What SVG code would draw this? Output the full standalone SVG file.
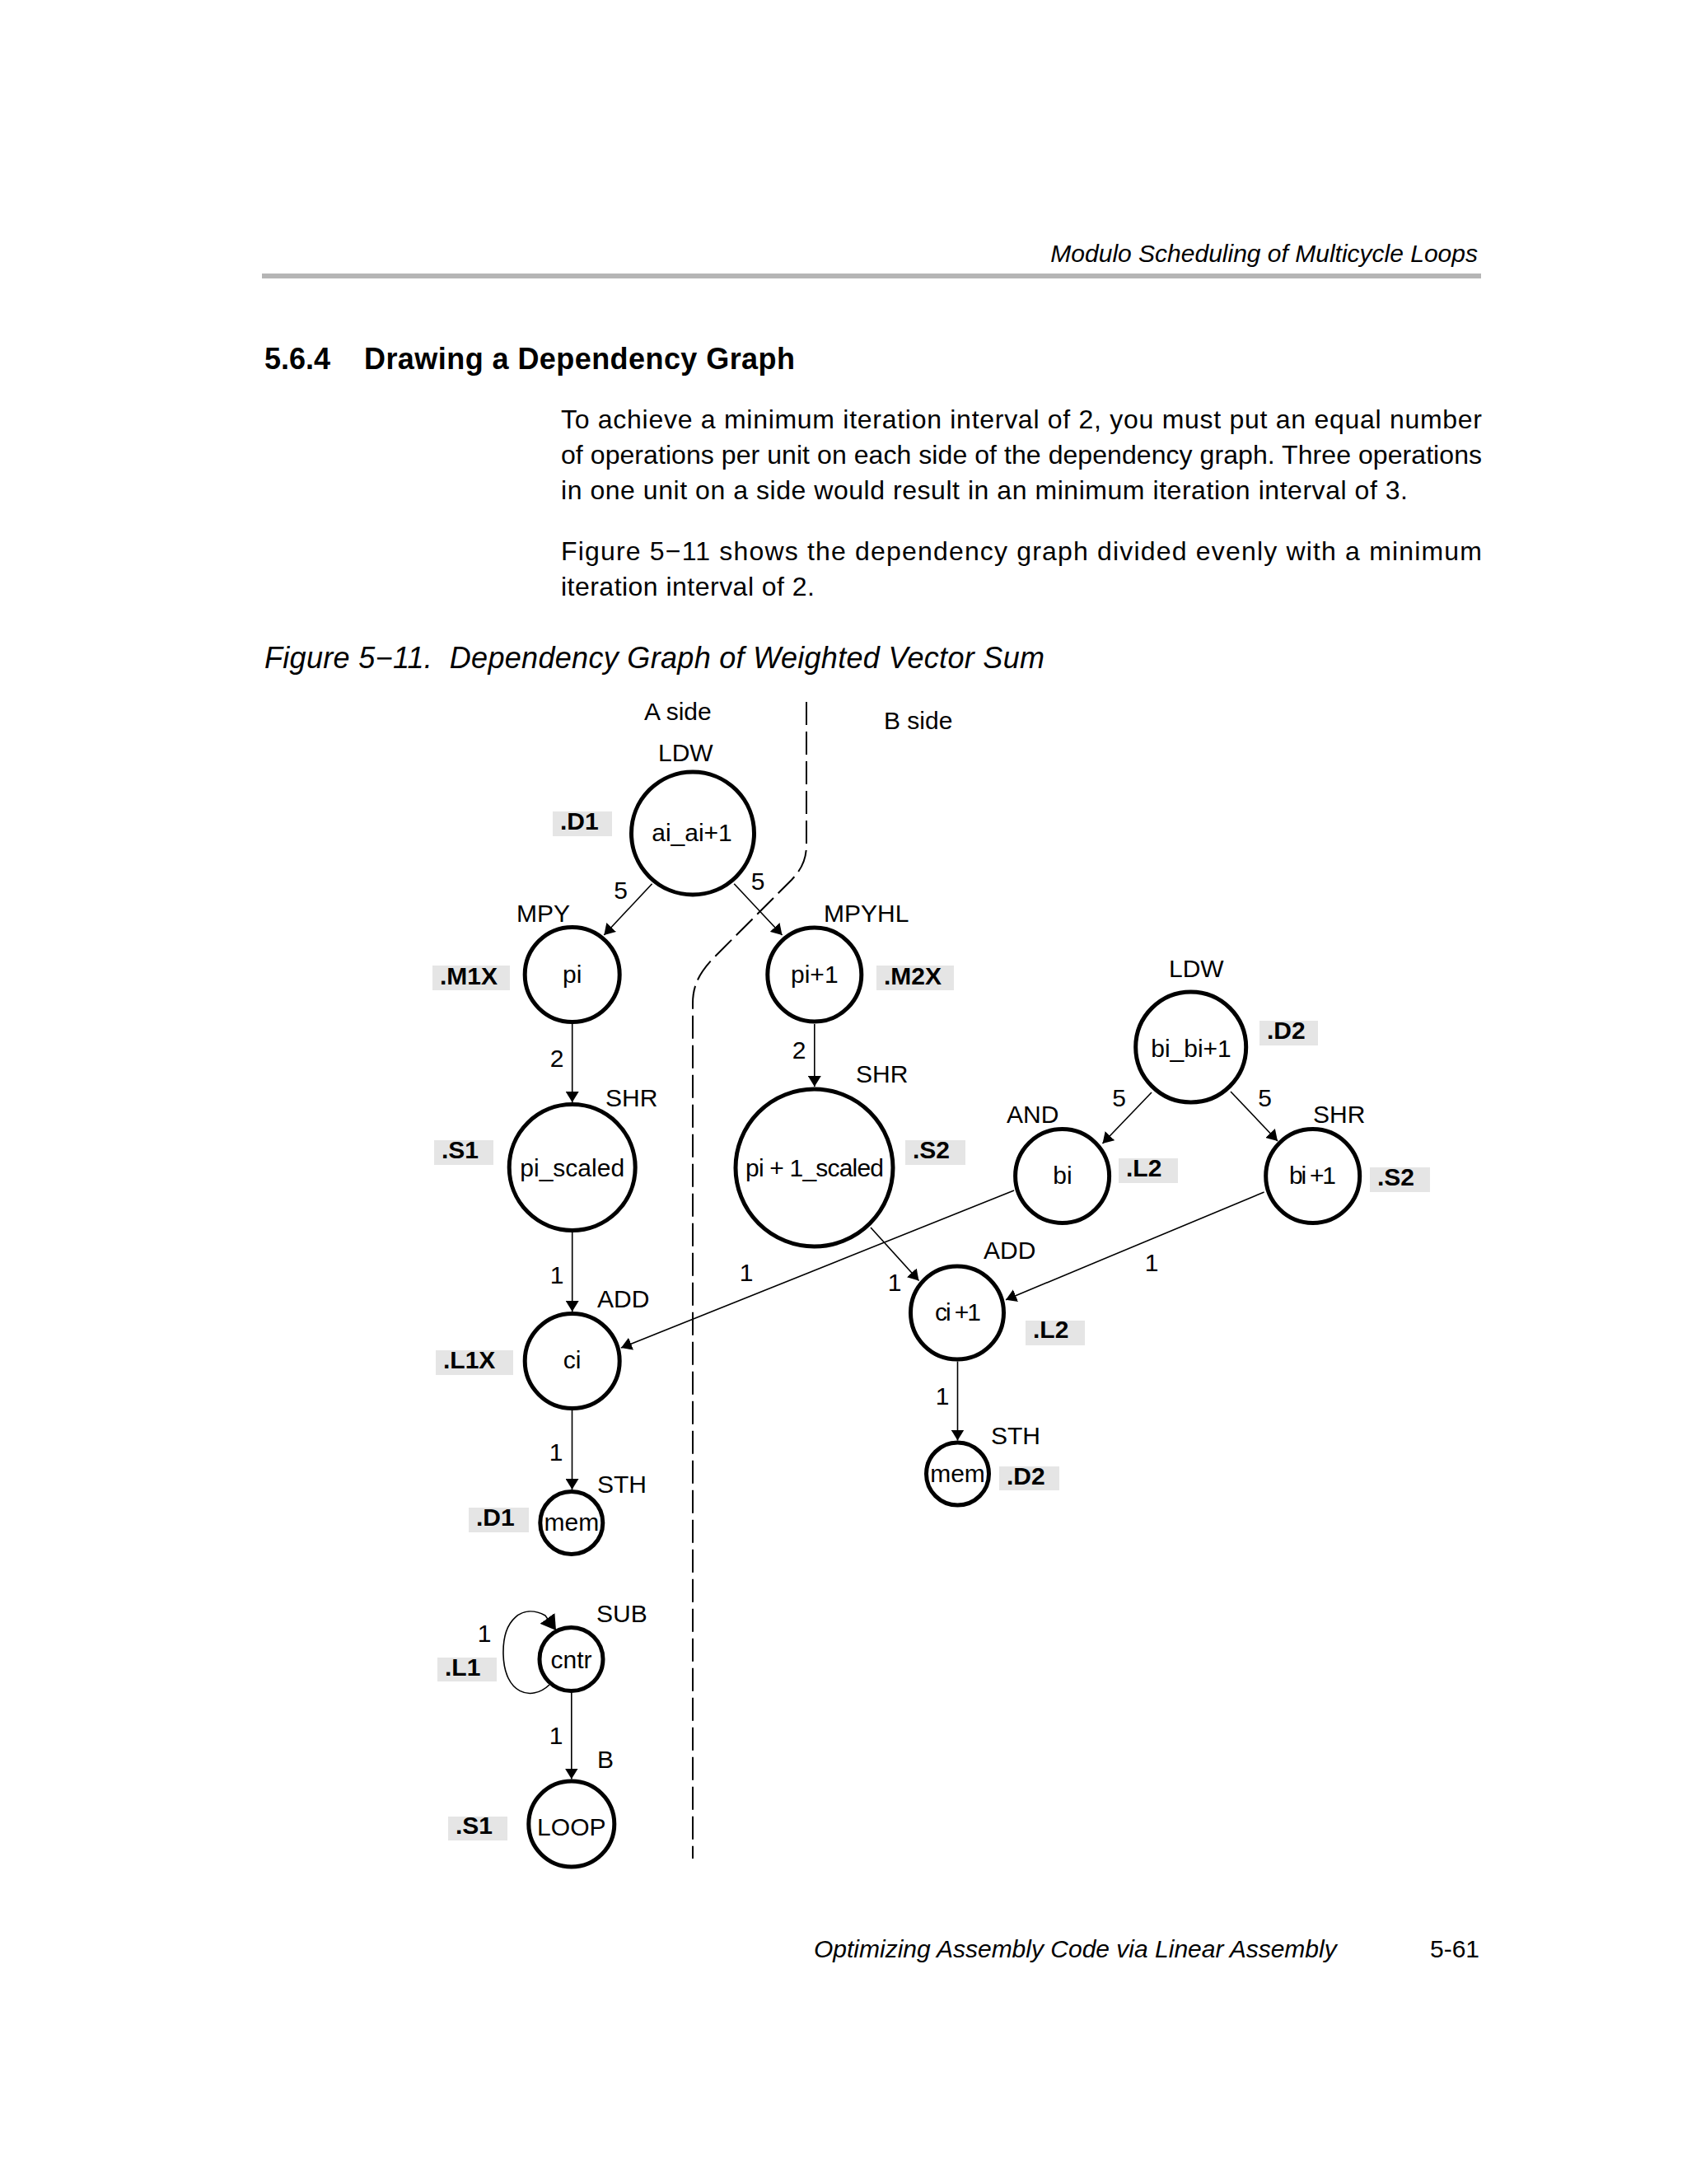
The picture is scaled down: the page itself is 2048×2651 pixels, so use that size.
<svg xmlns="http://www.w3.org/2000/svg" width="2048" height="2651" viewBox="0 0 2048 2651">
<style>
text{font-family:"Liberation Sans",Arial,Helvetica,sans-serif;fill:#000}
.t{font-size:30px}
.p{font-size:32px}
.it{font-size:30px;font-style:italic}
.c{font-size:30px;text-anchor:middle}
.w{font-size:30px;text-anchor:middle}
.u{font-size:30px;font-weight:bold}
.ub{fill:#e5e5e5}
.n{fill:#fff;stroke:#000;stroke-width:5}
.e{stroke:#000;stroke-width:1.6;fill:none}
</style>
<defs>
<marker id="ah" markerUnits="userSpaceOnUse" markerWidth="14" markerHeight="16" refX="13" refY="8" orient="auto">
<path d="M0,0 L13,8 L0,16 z" fill="#000"/>
</marker>
<marker id="ahBig" markerUnits="userSpaceOnUse" markerWidth="20" markerHeight="22" refX="18" refY="11" orient="auto">
<path d="M0,0 L18,11 L0,22 z" fill="#000"/>
</marker>
</defs>
<rect width="2048" height="2651" fill="#fff"/>

<g id="page">
<text class="it" x="1794" y="318" text-anchor="end">Modulo Scheduling of Multicycle Loops</text>
<rect x="318" y="332" width="1480" height="6" fill="#b5b5b5"/>
<text x="321" y="448" font-size="36" font-weight="bold">5.6.4</text>
<text x="442" y="448" font-size="36" font-weight="bold" textLength="523">Drawing a Dependency Graph</text>
<text class="p" x="681" y="520" textLength="1118">To achieve a minimum iteration interval of 2, you must put an equal number</text>
<text class="p" x="681" y="563" textLength="1118">of operations per unit on each side of the dependency graph. Three operations</text>
<text class="p" x="681" y="606" textLength="1028">in one unit on a side would result in an minimum iteration interval of 3.</text>
<text class="p" x="681" y="680" textLength="1118">Figure 5−11 shows the dependency graph divided evenly with a minimum</text>
<text class="p" x="681" y="723" textLength="308">iteration interval of 2.</text>
<text x="321" y="811" font-size="36" font-style="italic" textLength="947">Figure 5−11.&#160; Dependency Graph of Weighted Vector Sum</text>
<text class="it" x="988" y="2376">Optimizing Assembly Code via Linear Assembly</text>
<text class="t" x="1796" y="2376" text-anchor="end">5-61</text>
</g>

<g id="divider">
<path d="M979,852 L979,1025 C979,1045 972,1056 961,1068 L866,1163 C850,1180 841,1195 841,1218 L841,2256" fill="none" stroke="#000" stroke-width="2" stroke-dasharray="28 8"/>
<text class="t" x="782" y="874">A side</text>
<text class="t" x="1073" y="885">B side</text>
</g>

<g id="connectors">
<line class="e" x1="791.6" y1="1072.7" x2="733.3" y2="1135" marker-end="url(#ah)"/>
<line class="e" x1="891.2" y1="1072.7" x2="949.5" y2="1135" marker-end="url(#ah)"/>
<line class="e" x1="694.7" y1="1243" x2="694.7" y2="1338" marker-end="url(#ah)"/>
<line class="e" x1="988.8" y1="1243" x2="988.8" y2="1319" marker-end="url(#ah)"/>
<line class="e" x1="694.7" y1="1496" x2="694.7" y2="1592" marker-end="url(#ah)"/>
<line class="e" x1="1057" y1="1490" x2="1115.5" y2="1554.5" marker-end="url(#ah)"/>
<line class="e" x1="1231" y1="1445" x2="754" y2="1636" marker-end="url(#ah)"/>
<line class="e" x1="1534.6" y1="1447" x2="1221" y2="1577.7" marker-end="url(#ah)"/>
<line class="e" x1="1162.5" y1="1652.5" x2="1162.5" y2="1748.5" marker-end="url(#ah)"/>
<line class="e" x1="694.5" y1="1712" x2="694.5" y2="1808" marker-end="url(#ah)"/>
<line class="e" x1="1398" y1="1326" x2="1338.5" y2="1388" marker-end="url(#ah)"/>
<line class="e" x1="1494" y1="1325" x2="1551" y2="1385" marker-end="url(#ah)"/>
<path class="e" d="M667,2045 C645,2066 612,2056 611,2008 C610,1966 634,1946 662,1961 L675,1979" marker-end="url(#ahBig)"/>
<line class="e" x1="693.8" y1="2054.5" x2="693.8" y2="2159.5" marker-end="url(#ah)"/>
<text class="w" x="753.5" y="1091">5</text>
<text class="w" x="920" y="1080">5</text>
<text class="w" x="676" y="1295">2</text>
<text class="w" x="970" y="1285">2</text>
<text class="w" x="676" y="1558">1</text>
<text class="w" x="1086" y="1567">1</text>
<text class="w" x="906" y="1555">1</text>
<text class="w" x="1398" y="1543">1</text>
<text class="w" x="1144" y="1705">1</text>
<text class="w" x="675" y="1773">1</text>
<text class="w" x="1358.5" y="1343">5</text>
<text class="w" x="1535.5" y="1343">5</text>
<text class="w" x="588" y="1993">1</text>
<text class="w" x="675" y="2117">1</text>
</g>

<g id="node-ai">
<circle class="n" cx="841" cy="1011.5" r="74.5"/>
<text class="c" x="840" y="1021">ai_ai+1</text>
<text class="t" x="799" y="924">LDW</text>
<rect class="ub" x="671" y="985" width="72" height="30"/>
<text class="u" x="680" y="1007">.D1</text>
</g>

<g id="node-pi">
<circle class="n" cx="694.7" cy="1183" r="57.5"/>
<text class="c" x="694.7" y="1193">pi</text>
<text class="t" x="627" y="1119">MPY</text>
<rect class="ub" x="525" y="1172" width="94" height="30"/>
<text class="u" x="534" y="1195">.M1X</text>
</g>

<g id="node-pi1">
<circle class="n" cx="988.8" cy="1183" r="57"/>
<text class="c" x="988.8" y="1193">pi+1</text>
<text class="t" x="1000" y="1119">MPYHL</text>
<rect class="ub" x="1064" y="1172" width="94" height="30"/>
<text class="u" x="1073" y="1195">.M2X</text>
</g>

<g id="node-pi-scaled">
<circle class="n" cx="694.7" cy="1417" r="76.5"/>
<text class="c" x="694.7" y="1427.5">pi_scaled</text>
<text class="t" x="735" y="1343">SHR</text>
<rect class="ub" x="527" y="1384" width="72" height="30"/>
<text class="u" x="536" y="1406">.S1</text>
</g>

<g id="node-pi1-scaled">
<circle class="n" cx="988.5" cy="1417.5" r="95.5"/>
<text class="c" x="989" y="1428" textLength="168">pi + 1_scaled</text>
<text class="t" x="1039" y="1314">SHR</text>
<rect class="ub" x="1099" y="1384" width="73" height="30"/>
<text class="u" x="1108" y="1406">.S2</text>
</g>

<g id="node-ci">
<circle class="n" cx="694.7" cy="1652" r="57.5"/>
<text class="c" x="694.7" y="1661">ci</text>
<text class="t" x="725" y="1587">ADD</text>
<rect class="ub" x="529" y="1639" width="94" height="30"/>
<text class="u" x="538" y="1661">.L1X</text>
</g>

<g id="node-mem-a">
<circle class="n" cx="693.8" cy="1848.5" r="38"/>
<text class="c" x="693.8" y="1858">mem</text>
<text class="t" x="725" y="1812">STH</text>
<rect class="ub" x="569" y="1830" width="73" height="30"/>
<text class="u" x="578" y="1852">.D1</text>
</g>

<g id="node-cntr">
<circle class="n" cx="693.5" cy="2014" r="38.5"/>
<text class="c" x="693.5" y="2025">cntr</text>
<text class="t" x="724" y="1969">SUB</text>
<rect class="ub" x="531" y="2012" width="72" height="29"/>
<text class="u" x="540" y="2034">.L1</text>
</g>

<g id="node-loop">
<circle class="n" cx="693.8" cy="2214" r="52"/>
<text class="c" x="693.8" y="2228">LOOP</text>
<text class="t" x="725" y="2146">B</text>
<rect class="ub" x="544" y="2205" width="72" height="29"/>
<text class="u" x="553" y="2226">.S1</text>
</g>

<g id="node-bi-bi1">
<circle class="n" cx="1445.7" cy="1271" r="67"/>
<text class="c" x="1446" y="1283">bi_bi+1</text>
<text class="t" x="1419" y="1186">LDW</text>
<rect class="ub" x="1529" y="1239" width="71" height="30"/>
<text class="u" x="1538" y="1261">.D2</text>
</g>

<g id="node-bi">
<circle class="n" cx="1289.6" cy="1427.5" r="57"/>
<text class="c" x="1290" y="1437">bi</text>
<text class="t" x="1222" y="1363">AND</text>
<rect class="ub" x="1358" y="1406" width="72" height="30"/>
<text class="u" x="1367" y="1428">.L2</text>
</g>

<g id="node-bi1">
<circle class="n" cx="1593.7" cy="1427.5" r="57"/>
<text class="c" x="1593.5" y="1437" textLength="57">bi +1</text>
<text class="t" x="1594" y="1363">SHR</text>
<rect class="ub" x="1663" y="1417" width="73" height="30"/>
<text class="u" x="1672" y="1439">.S2</text>
</g>

<g id="node-ci1">
<circle class="n" cx="1162" cy="1593.5" r="56.5"/>
<text class="c" x="1163" y="1603" textLength="56">ci +1</text>
<text class="t" x="1194" y="1528">ADD</text>
<rect class="ub" x="1245" y="1603" width="72" height="30"/>
<text class="u" x="1254" y="1624">.L2</text>
</g>

<g id="node-mem-b">
<circle class="n" cx="1162.5" cy="1789" r="38"/>
<text class="c" x="1162.5" y="1799">mem</text>
<text class="t" x="1203" y="1753">STH</text>
<rect class="ub" x="1213" y="1780" width="73" height="29"/>
<text class="u" x="1222" y="1802">.D2</text>
</g>
</svg>
